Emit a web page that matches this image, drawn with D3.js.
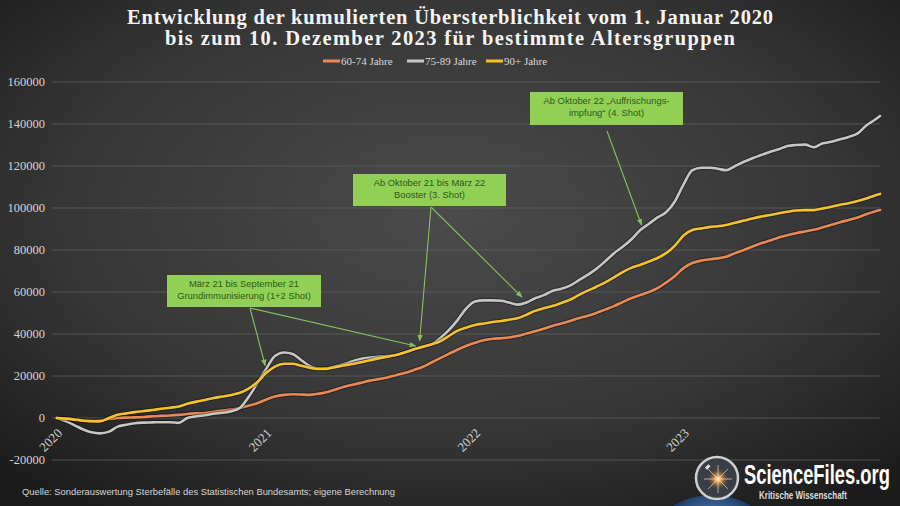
<!DOCTYPE html>
<html><head><meta charset="utf-8">
<script src="https://cdn.jsdelivr.net/npm/d3@7"></script>
<style>html,body{margin:0;padding:0;background:#222;} svg{display:block}</style>
</head><body><svg id="c" width="900" height="506"></svg>
<script>
// ---------- DATA ----------
const dates = [
 "2020-01-01","2020-01-16","2020-02-01","2020-02-16","2020-03-01","2020-03-16","2020-04-01","2020-04-16","2020-05-01","2020-05-16","2020-06-01","2020-06-16",
 "2020-07-01","2020-07-16","2020-08-01","2020-08-16","2020-09-01","2020-09-16","2020-10-01","2020-10-16","2020-11-01","2020-11-16","2020-12-01","2020-12-16",
 "2021-01-01","2021-01-16","2021-02-01","2021-02-16","2021-03-01","2021-03-16","2021-04-01","2021-04-16","2021-05-01","2021-05-16","2021-06-01","2021-06-16",
 "2021-07-01","2021-07-16","2021-08-01","2021-08-16","2021-09-01","2021-09-16","2021-10-01","2021-10-16","2021-11-01","2021-11-16","2021-12-01","2021-12-16",
 "2022-01-01","2022-01-16","2022-02-01","2022-02-16","2022-03-01","2022-03-16","2022-04-01","2022-04-16","2022-05-01","2022-05-16","2022-06-01","2022-06-16",
 "2022-07-01","2022-07-16","2022-08-01","2022-08-16","2022-09-01","2022-09-16","2022-10-01","2022-10-16","2022-11-01","2022-11-16","2022-12-01","2022-12-16",
 "2023-01-01","2023-01-16","2023-02-01","2023-02-16","2023-03-01","2023-03-16","2023-04-01","2023-04-16","2023-05-01","2023-05-16","2023-06-01","2023-06-16",
 "2023-07-01","2023-07-16","2023-08-01","2023-08-16","2023-09-01","2023-09-16","2023-10-01","2023-10-16","2023-11-01","2023-11-16","2023-12-01","2023-12-10"
];
const series6074 = [
 0,-300,-600,-1200,-1500,-1200,-500,0,200,300,500,800,
 1000,1200,1500,1900,2200,2400,3000,3500,4000,4800,5800,7000,
 8800,10200,11000,11300,11200,11000,11500,12300,13500,14800,15800,16800,
 17800,18500,19300,20400,21500,22900,24300,26300,28500,30500,32500,34300,
 35800,37000,37700,38000,38300,39000,40200,41300,42500,43800,45000,46200,
 47500,48600,50000,51600,53300,55200,57000,58500,60000,61800,64500,67500,
 71500,73800,75000,75600,76000,76800,78500,80000,81700,83200,84500,86000,
 87000,88000,88800,89600,90800,92000,93200,94300,95500,97000,98300,99000
];
const series7589 = [
 0,-1500,-3500,-5500,-6800,-7300,-6500,-4100,-3200,-2500,-2200,-2100,
 -2000,-2000,-2300,0,800,1300,2000,2500,3200,4900,10000,16500,
 23500,29500,31200,30500,28000,25000,23500,23600,24500,25600,27000,28200,
 28800,29200,29500,30000,31300,32700,34000,35000,38000,41800,46500,52000,
 55500,56000,56000,55800,55000,54000,55000,57000,58500,60500,61500,63000,
 65500,68000,71000,74500,78500,81500,85000,89300,92500,95500,98000,103000,
 111500,118000,119200,119200,118700,118000,120000,122000,123700,125200,126800,128000,
 129500,130000,130200,128900,130800,131500,132700,133800,135500,139300,142000,143800
];
const series90 = [
 0,-300,-800,-1300,-1500,-1600,0,1600,2200,2800,3300,3800,
 4400,4900,5500,6800,7800,8600,9500,10200,11000,12000,14000,17000,
 21500,24500,25800,25800,25000,24000,23300,23400,24200,25000,25700,26600,
 27500,28400,29200,30000,31300,32700,33800,35000,36500,39000,41500,43000,
 44300,45000,45700,46200,46800,47500,49200,51000,52300,53300,54800,56300,
 58500,60500,62500,64500,67000,69500,71500,72900,74500,76200,78500,82000,
 87000,89500,90300,91000,91300,91900,93000,94000,95000,95900,96700,97500,
 98200,98800,99000,99000,99800,100600,101500,102300,103300,104500,106000,106700
];
const seriesNames = ["60-74 Jahre","75-89 Jahre","90+ Jahre"];
const yTicks = [-20000,0,20000,40000,60000,80000,100000,120000,140000,160000];
const yearTicks = ["2020-01-01","2021-01-01","2022-01-01","2023-01-01"];
const yearLabels = ["2020","2021","2022","2023"];
const titleLines = ["Entwicklung der kumulierten Übersterblichkeit vom 1. Januar 2020",
                    "bis zum 10. Dezember 2023 für bestimmte Altersgruppen"];
const sourceText = "Quelle: Sonderauswertung Sterbefälle des Statistischen Bundesamts; eigene Berechnung";
const annotationLines = [
  ["März 21 bis September 21","Grundimmunisierung (1+2 Shot)"],
  ["Ab Oktober 21 bis März 22","Booster (3. Shot)"],
  ["Ab Oktober 22 „Auffrischungs-","impfung“ (4. Shot)"]
];
// arrow tips in data coordinates: [annotation index, date, value]
const arrowTips = [
  [0,"2020-12-30",25000],
  [0,"2021-09-19",34300],
  [1,"2021-09-26",36700],
  [1,"2022-03-24",57600],
  [2,"2022-10-19",91900]
];

// ---------- LAYOUT / STYLE ----------
const W = 900, H = 506;
const colors = ["#e98955","#c6c6c6","#f6c22a"];
const parse = d3.utcParse("%Y-%m-%d");
const svg = d3.select("#c");
const defs = svg.append("defs");

const bg = defs.append("radialGradient").attr("id","bg").attr("cx","0.5").attr("cy","0.42").attr("r","0.72");
bg.append("stop").attr("offset","0").attr("stop-color","#4b4b4b");
bg.append("stop").attr("offset","0.6").attr("stop-color","#363636");
bg.append("stop").attr("offset","1").attr("stop-color","#1b1b1b");
svg.append("rect").attr("width",W).attr("height",H).attr("fill","url(#bg)");

const x = d3.scaleUtc().domain([parse("2020-01-01"), parse("2023-12-10")]).range([57, 880]);
const y = d3.scaleLinear().domain([-20000,160000]).range([460, 82]);

// gridlines
svg.append("g").selectAll("line").data(yTicks).join("line")
  .attr("x1",52).attr("x2",880)
  .attr("y1",d=>y(d)).attr("y2",d=>y(d))
  .attr("stroke","#5e5e5e").attr("stroke-width",0.8);

// y labels
svg.append("g").selectAll("text").data(yTicks).join("text")
  .attr("x",45).attr("y",d=>y(d)).attr("dy","0.35em")
  .attr("text-anchor","end")
  .attr("font-family","'Liberation Serif', serif").attr("font-size",12.5)
  .attr("fill","#d4d4d4").text(d=>d);

// x labels
svg.append("g").selectAll("text").data(yearTicks).join("text")
  .attr("transform",d=>`translate(${x(parse(d))+6},434) rotate(-45)`)
  .attr("text-anchor","end")
  .attr("font-family","'Liberation Serif', serif").attr("font-size",13)
  .attr("fill","#d4d4d4").text((d,i)=>yearLabels[i]);

// lines
const allSeries = [series6074, series7589, series90];
const line = d3.line().x((d,i)=>x(parse(dates[i]))).y(d=>y(d)).curve(d3.curveMonotoneX);
allSeries.forEach((s,k)=>{
  svg.append("path").datum(s).attr("d",line).attr("fill","none")
    .attr("stroke","rgba(0,0,0,0.35)").attr("stroke-width",4.6).attr("stroke-linejoin","round");
  svg.append("path").datum(s).attr("d",line).attr("fill","none")
    .attr("stroke",colors[k]).attr("stroke-width",2.6).attr("stroke-linejoin","round").attr("stroke-linecap","round");
});

// title
const titleLen = [646, 570];
svg.append("g").selectAll("text").data(titleLines).join("text")
  .attr("x",450).attr("y",(d,i)=>24+i*21)
  .attr("text-anchor","middle")
  .attr("font-family","'Liberation Serif', serif").attr("font-weight","bold").attr("font-size",20.5)
  .attr("textLength",(d,i)=>titleLen[i]).attr("lengthAdjust","spacing")
  .attr("fill","#f4f4f4").text(d=>d);

// legend
const legX = [323, 407, 486];
const lg = svg.append("g");
seriesNames.forEach((n,i)=>{
  lg.append("line").attr("x1",legX[i]).attr("x2",legX[i]+17).attr("y1",61).attr("y2",61)
    .attr("stroke",colors[i]).attr("stroke-width",3);
  lg.append("text").attr("x",legX[i]+18).attr("y",61).attr("dy","0.35em")
    .attr("font-family","'Liberation Serif', serif").attr("font-size",11)
    .attr("fill","#d8d8d8").text(n);
});

// annotations
const boxes = [
  {x:167,y:275,w:154,h:32,ax:250,ay:308},
  {x:353,y:174,w:153,h:32,ax:431,ay:207},
  {x:530,y:92,w:153,h:33,ax:607,ay:131}
];
defs.append("marker").attr("id","arr").attr("viewBox","0 0 10 10").attr("refX",9).attr("refY",5)
  .attr("markerWidth",6).attr("markerHeight",6).attr("orient","auto-start-reverse")
  .append("path").attr("d","M0,1 L10,5 L0,9 z").attr("fill","#86c05a");
const ag = svg.append("g");
arrowTips.forEach(t=>{
  const b = boxes[t[0]];
  ag.append("line").attr("x1",b.ax).attr("y1",b.ay)
    .attr("x2",x(parse(t[1]))).attr("y2",y(t[2]))
    .attr("stroke","#86c05a").attr("stroke-width",1.1).attr("marker-end","url(#arr)");
});
boxes.forEach((b,i)=>{
  ag.append("rect").attr("x",b.x).attr("y",b.y).attr("width",b.w).attr("height",b.h).attr("fill","#92cf55");
  annotationLines[i].forEach((t,j)=>{
    ag.append("text").attr("x",b.x+b.w/2).attr("y",b.y+12+j*12)
      .attr("text-anchor","middle")
      .attr("font-family","'Liberation Sans', Arial, sans-serif").attr("font-size",9.4)
      .attr("fill","#2c5a1c").text(t);
  });
});

// source
svg.append("text").attr("x",22).attr("y",495)
  .attr("font-family","'Liberation Sans', Arial, sans-serif").attr("font-size",9.5)
  .attr("textLength",373).attr("lengthAdjust","spacingAndGlyphs")
  .attr("fill","#d6d6d6").text(sourceText);

// logo
const earth = defs.append("radialGradient").attr("id","earth").attr("cx","0.5").attr("cy","0.3").attr("r","0.7");
earth.append("stop").attr("offset","0").attr("stop-color","#5d87b8");
earth.append("stop").attr("offset","0.5").attr("stop-color","#1d3e6a");
earth.append("stop").attr("offset","1").attr("stop-color","#0d1c33");
svg.append("ellipse").attr("cx",712).attr("cy",545).attr("rx",62).attr("ry",50).attr("fill","url(#earth)");
const glow = defs.append("radialGradient").attr("id","glow");
glow.append("stop").attr("offset","0").attr("stop-color","#fff6d8");
glow.append("stop").attr("offset","0.25").attr("stop-color","#f2a455");
glow.append("stop").attr("offset","1").attr("stop-color","#2a2a2a").attr("stop-opacity","0");
svg.append("circle").attr("cx",717).attr("cy",478).attr("r",21).attr("fill","#3a3f47");
svg.append("circle").attr("cx",718).attr("cy",479).attr("r",12).attr("fill","url(#glow)");
[0,45,90,135].forEach(a=>{
  const r=a*Math.PI/180;
  svg.append("line").attr("x1",718-Math.cos(r)*14).attr("y1",479-Math.sin(r)*14)
    .attr("x2",718+Math.cos(r)*14).attr("y2",479+Math.sin(r)*14)
    .attr("stroke","#ffe9c4").attr("stroke-width",0.8).attr("opacity",0.8);
});
svg.append("circle").attr("cx",717).attr("cy",478).attr("r",21).attr("fill","none")
  .attr("stroke","#d0d0d0").attr("stroke-width",2.5);
svg.append("rect").attr("x",705).attr("y",466).attr("width",5).attr("height",3).attr("fill","#e0e0e0")
  .attr("transform","rotate(-45 707 467)");
function condensed(txt, px, py, size, weight, fill, targetW){
  const t = svg.append("text").attr("x",0).attr("y",0)
    .attr("font-family","'Liberation Sans', Arial, sans-serif").attr("font-weight",weight).attr("font-size",size)
    .attr("fill",fill).text(txt);
  const w = t.node().getComputedTextLength();
  t.attr("transform",`translate(${px},${py}) scale(${targetW/w},1)`);
}
condensed("ScienceFiles.org", 744, 484, 28, "bold", "#ffffff", 146);
condensed("Kritische Wissenschaft", 759, 499, 10, "bold", "#dcdcdc", 88);
</script></body></html>
